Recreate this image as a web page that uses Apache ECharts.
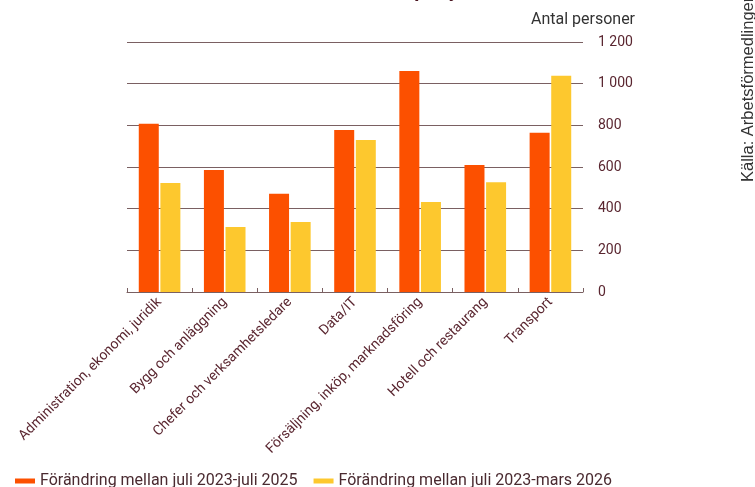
<!DOCTYPE html>
<html>
<head>
<meta charset="utf-8">
<script src="https://cdn.jsdelivr.net/npm/echarts@6/dist/echarts.min.js"></script>
<style>
  html, body { margin: 0; padding: 0; background: #fff; }
  #chart { width: 755px; height: 487px; }
</style>
</head>
<body>
<div id="chart"></div>
<script>
const categories = [
  'Administration, ekonomi, juridik',
  'Bygg och anläggning',
  'Chefer och verksamhetsledare',
  'Data/IT',
  'Försäljning, inköp, marknadsföring',
  'Hotell och restaurang',
  'Transport'
];
const seriesNames = [
  'Förändring mellan juli 2023-juli 2025',
  'Förändring mellan juli 2023-mars 2026'
];
const julyValues = [808, 586, 472, 778, 1061, 610, 765];
const marchValues = [523, 312, 336, 730, 432, 527, 1038];

const textColor = '#5a2630';
const lineColor = '#7a6062';

function fmtThousands(v) {
  return String(v).replace(/\B(?=(\d{3})+(?!\d))/g, ' ');
}

const chart = echarts.init(document.getElementById('chart'), null, { renderer: 'canvas' });

chart.setOption({
  animation: false,
  textStyle: { fontFamily: 'Roboto' },
  grid: { left: 127, right: 172, top: 42, bottom: 195, containLabel: false },
  graphic: [
    {
      // title sits mostly above the visible area, only descenders show
      type: 'text',
      left: 275,
      top: -18,
      style: {
        text: 'Antal inskrivna per yrkesområde',
        font: 'bold 20px Roboto',
        fill: '#4a1520'
      }
    },
    {
      type: 'text',
      rotation: Math.PI / 2,
      x: 740,
      y: 182,
      style: {
        text: 'Källa: Arbetsförmedlingen',
        font: '16.5px "Liberation Sans"',
        fill: '#333',
        align: 'left',
        verticalAlign: 'top'
      }
    }
  ],
  legend: {
    left: 15,
    top: 473,
    padding: 0,
    itemWidth: 20,
    itemHeight: 5,
    itemGap: 16,
    icon: 'rect',
    data: seriesNames,
    textStyle: { color: '#4a2a30', fontSize: 16, fontFamily: 'Roboto' }
  },
  xAxis: {
    type: 'category',
    data: categories,
    axisLine: { lineStyle: { color: lineColor, width: 1 } },
    axisTick: { show: true, inside: true, length: 4, lineStyle: { color: lineColor } },
    axisLabel: {
      interval: 0,
      rotate: 45,
      margin: 8,
      color: textColor,
      fontSize: 14,
      fontFamily: 'Roboto'
    }
  },
  yAxis: {
    type: 'value',
    position: 'right',
    min: 0,
    max: 1200,
    interval: 200,
    name: 'Antal personer',
    nameLocation: 'end',
    nameGap: 22,
    nameTextStyle: {
      color: '#333',
      fontSize: 16,
      align: 'center',
      verticalAlign: 'middle',
      fontFamily: 'Roboto'
    },
    axisLine: { show: false },
    axisTick: { show: false },
    splitLine: { lineStyle: { color: lineColor, width: 1 } },
    axisLabel: {
      margin: 15,
      color: textColor,
      fontSize: 14,
      formatter: fmtThousands
    }
  },
  series: [
    {
      name: seriesNames[0],
      type: 'bar',
      data: julyValues,
      barWidth: 20,
      barGap: '8%',
      itemStyle: { color: '#fc5000' }
    },
    {
      name: seriesNames[1],
      type: 'bar',
      data: marchValues,
      barWidth: 20,
      barGap: '8%',
      itemStyle: { color: '#fdc82e' }
    }
  ]
});
</script>
</body>
</html>
